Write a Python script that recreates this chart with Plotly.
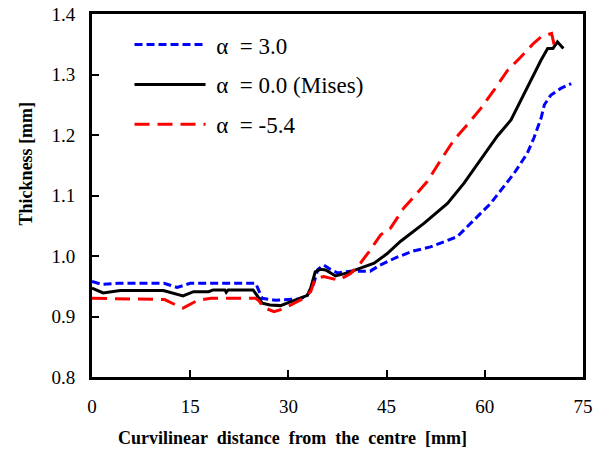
import plotly.graph_objects as go

# ---- data ----
x_a3 = [0, 1.5, 4, 11, 13, 15, 20, 25, 25.4, 26, 28, 31.8, 32.9, 33.8, 34.5, 35.4, 36.4, 37.5,
        39.5, 42.5, 44, 46.6, 49, 51.7, 55.8, 57.9, 60.9, 64.5, 66.5, 67.5, 68.6, 69.1, 70.1, 71.6, 73.2]
y_a3 = [0.958, 0.953, 0.955, 0.955, 0.948, 0.955, 0.955, 0.955, 0.945, 0.930, 0.927, 0.929, 0.935,
        0.952, 0.978, 0.985, 0.978, 0.972, 0.975, 0.975, 0.985, 0.998, 1.008, 1.015, 1.032, 1.054,
        1.087, 1.137, 1.170, 1.195, 1.228, 1.250, 1.266, 1.277, 1.285]

x_a0 = [0, 1.7, 4.3, 10.9, 13.9, 15.5, 17.8, 18.5, 20.3, 20.5, 20.8, 24.6, 25.2, 26.0, 27.2, 28.8,
        29.8, 31.3, 32.9, 33.4, 34.1, 34.9, 35.7, 37.2, 39.0, 41.0, 43.1, 45.1, 47.1, 50.7, 54.3,
        56.8, 59.4, 61.9, 64.0, 64.5, 66.5, 68.6, 69.6, 70.4, 71.1, 72.0]
y_a0 = [0.947, 0.939, 0.943, 0.943, 0.934, 0.941, 0.941, 0.944, 0.944, 0.940, 0.944, 0.944, 0.935,
        0.922, 0.919, 0.918, 0.922, 0.928, 0.935, 0.947, 0.974, 0.978, 0.977, 0.967, 0.972, 0.980,
        0.988, 1.004, 1.024, 1.054, 1.087, 1.120, 1.159, 1.198, 1.225, 1.236, 1.280, 1.324, 1.343,
        1.343, 1.354, 1.343]

x_am = [0, 11.1, 13.2, 13.9, 16.2, 18.2, 25.0, 25.5, 26.2, 27.8, 29.3, 30.8, 32.3, 33.4, 34.1, 35.4,
        36.7, 37.7, 39.5, 41.0, 42.3, 44.1, 45.6, 47.6, 49.2, 51.2, 53.3, 55.3, 57.4, 59.4, 61.4,
        63.5, 65.5, 67.5, 68.6, 69.6, 70.2, 70.6]
y_am = [0.930, 0.928, 0.917, 0.914, 0.927, 0.930, 0.930, 0.926, 0.915, 0.908, 0.913, 0.922, 0.930,
        0.941, 0.963, 0.966, 0.963, 0.960, 0.971, 0.988, 1.007, 1.035, 1.046, 1.079, 1.098, 1.123,
        1.159, 1.192, 1.218, 1.244, 1.274, 1.307, 1.329, 1.352, 1.362, 1.365, 1.368, 1.349]

NB = "\u00a0"
names = [NB + "α" + NB * 2 + "= 3.0", NB + "α" + NB * 2 + "= 0.0 (Mises)", NB + "α" + NB * 2 + "= -5.4"]
x_ticks = [0, 15, 30, 45, 60, 75]
y_ticks = [0.8, 0.9, 1.0, 1.1, 1.2, 1.3, 1.4]
y_tick_text = ["0.8", "0.9", "1.0", "1.1", "1.2", "1.3", "1.4"]
x_title = "Curvilinear  distance  from  the  centre  [mm]"
y_title = "Thickness [mm]"

FONT = "Liberation Serif"

fig = go.Figure()
fig.add_trace(go.Scatter(x=x_a3, y=y_a3, mode="lines", name=names[0], legendgroup="a",
                         line=dict(color="#0000ff", width=3, dash="8px,4px")))
fig.add_trace(go.Scatter(x=x_a0, y=y_a0, mode="lines", name=names[1], legendgroup="b",
                         line=dict(color="#000000", width=3)))
fig.add_trace(go.Scatter(x=x_am, y=y_am, mode="lines", name=names[2], legendgroup="c",
                         line=dict(color="#ff0000", width=3, dash="15px,8px")))

fig.update_layout(
    width=606, height=453,
    margin=dict(l=92, r=23, t=14, b=76, autoexpand=False),
    paper_bgcolor="white", plot_bgcolor="white",
    font=dict(family=FONT, size=19, color="black"),
    showlegend=True,
    legend=dict(x=0.0764, y=0.975, xanchor="left", yanchor="top",
                bgcolor="rgba(0,0,0,0)", font=dict(family=FONT, size=23),
                tracegroupgap=7, itemwidth=71),
    xaxis=dict(range=[0, 75], tickvals=x_ticks, ticks="inside", ticklen=7, tickwidth=2,
               tickcolor="black", showline=True, linecolor="black", linewidth=3, mirror=True,
               showgrid=False, zeroline=False, tickfont=dict(family=FONT, size=19),
               ticklabelstandoff=10, automargin=False),
    yaxis=dict(range=[0.8, 1.4], tickvals=y_ticks, ticktext=y_tick_text, ticks="inside",
               ticklen=7, tickwidth=2, tickcolor="black", showline=True, linecolor="black",
               linewidth=3, mirror=True, showgrid=False, zeroline=False,
               tickfont=dict(family=FONT, size=19), ticklabelstandoff=10, automargin=False),
    annotations=[
        dict(text="<b>" + x_title + "</b>", xref="paper", yref="paper", x=0.409, y=-0.168,
             xanchor="center", yanchor="middle", showarrow=False,
             font=dict(family=FONT, size=18)),
        dict(text="<b>" + y_title + "</b>", xref="paper", yref="paper", x=-0.134, y=0.589,
             xanchor="center", yanchor="middle", showarrow=False, textangle=-90,
             font=dict(family=FONT, size=18)),
    ],
)

fig.write_html("out.html")
